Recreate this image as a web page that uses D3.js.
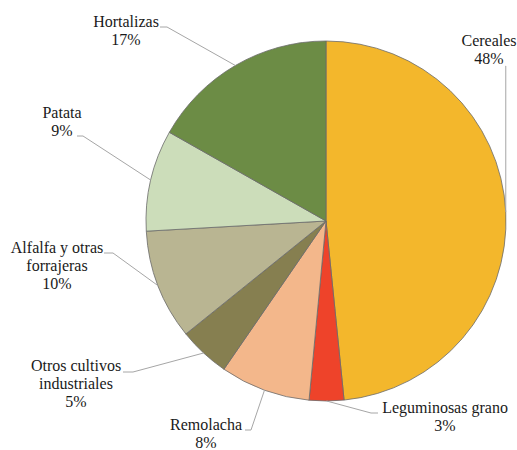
<!DOCTYPE html>
<meta charset="utf-8">
<head>
    <title>Superficie de cultivos</title>
</head>
<style>
 body { margin: 0; background: #fff; }
 .slice { stroke: #6b6b6b; stroke-width: 0.8px; }
 .leader { fill: none; stroke: #a6a6a6; stroke-width: 1px; }
 .label { font-size: 16px; fill: #1a1a1a; }
</style>
<body>
    <div id="chart"></div>
    <script src="https://d3js.org/d3.v7.min.js"></script>
    <script>

     // data, clockwise from 12 o'clock
     var categories = ["Cereales", "Leguminosas grano", "Remolacha",
                       "Otros cultivos industriales", "Alfalfa y otras forrajeras",
                       "Patata", "Hortalizas"];
     var shares = [48.4, 3.1, 8.1, 4.6, 9.9, 9.1, 16.8];
     var colors = ["#f3b72c", "#ee432a", "#f3b78b", "#867f50",
                   "#b9b592", "#ccddba", "#6c8c45"];
     // how each category name is broken into lines
     var labelLines = [["Cereales"], ["Leguminosas grano"], ["Remolacha"],
                       ["Otros cultivos", "industriales"], ["Alfalfa y otras", "forrajeras"],
                       ["Patata"], ["Hortalizas"]];

     var width = 517,
         height = 450,
         cx = 326,
         cy = 221,
         radius = 180;

     // label placement: text centre x, first baseline y, leader start and elbow
     var layout = [
         {x: 489, y: 46,  start: [506, 66],  elbow: null},
         {x: 445, y: 413, start: [378, 413], elbow: [371, 413]},
         {x: 206, y: 430, start: [245, 430], elbow: [251, 430]},
         {x: 76,  y: 371, start: [123, 372], elbow: [133, 372]},
         {x: 57,  y: 253, start: [104, 253], elbow: [113, 253]},
         {x: 62,  y: 118, start: [77, 136],  elbow: [83, 136]},
         {x: 126, y: 27,  start: [160, 27],  elbow: [167, 27]}
     ];

     var svg = d3.select("#chart").append("svg")
                 .attr("width", width)
                 .attr("height", height);

     var pie = d3.pie().sort(null).value(function(d) { return d; });
     var arcs = pie(shares);

     var arc = d3.arc().innerRadius(0).outerRadius(radius);

     var g = svg.append("g")
                .attr("transform", "translate(" + cx + "," + cy + ")");

     g.selectAll("path")
      .data(arcs)
      .enter()
      .append("path")
      .attr("class", "slice")
      .attr("fill", function(d, i) { return colors[i]; })
      .attr("d", arc);

     // leader lines end on the rim at each slice's mid angle
     function rimPoint(d) {
         var a = (d.startAngle + d.endAngle) / 2;
         return [cx + radius * Math.sin(a), cy - radius * Math.cos(a)];
     }

     svg.append("g")
        .selectAll("polyline")
        .data(arcs)
        .enter()
        .append("polyline")
        .attr("class", "leader")
        .attr("points", function(d, i) {
            var p = rimPoint(d),
                L = layout[i],
                pts = [L.start];
            if (L.elbow) pts.push(L.elbow);
            else pts.push([p[0], L.start[1]]);
            pts.push(p);
            return pts.map(function(q) { return q.join(","); }).join(" ");
        });

     var labels = svg.append("g")
                     .selectAll("text")
                     .data(arcs)
                     .enter()
                     .append("text")
                     .attr("class", "label")
                     .attr("font-family", "'Liberation Serif', 'Times New Roman', serif")
                     .attr("text-anchor", "middle")
                     .attr("x", function(d, i) { return layout[i].x; })
                     .attr("y", function(d, i) { return layout[i].y; });

     labels.each(function(d, i) {
         var t = d3.select(this);
         var lines = labelLines[i].concat([Math.round(d.data) + "%"]);
         lines.forEach(function(s, k) {
             t.append("tspan")
              .attr("x", layout[i].x)
              .attr("dy", k === 0 ? 0 : 18)
              .text(s);
         });
     });
    </script>
</body>
